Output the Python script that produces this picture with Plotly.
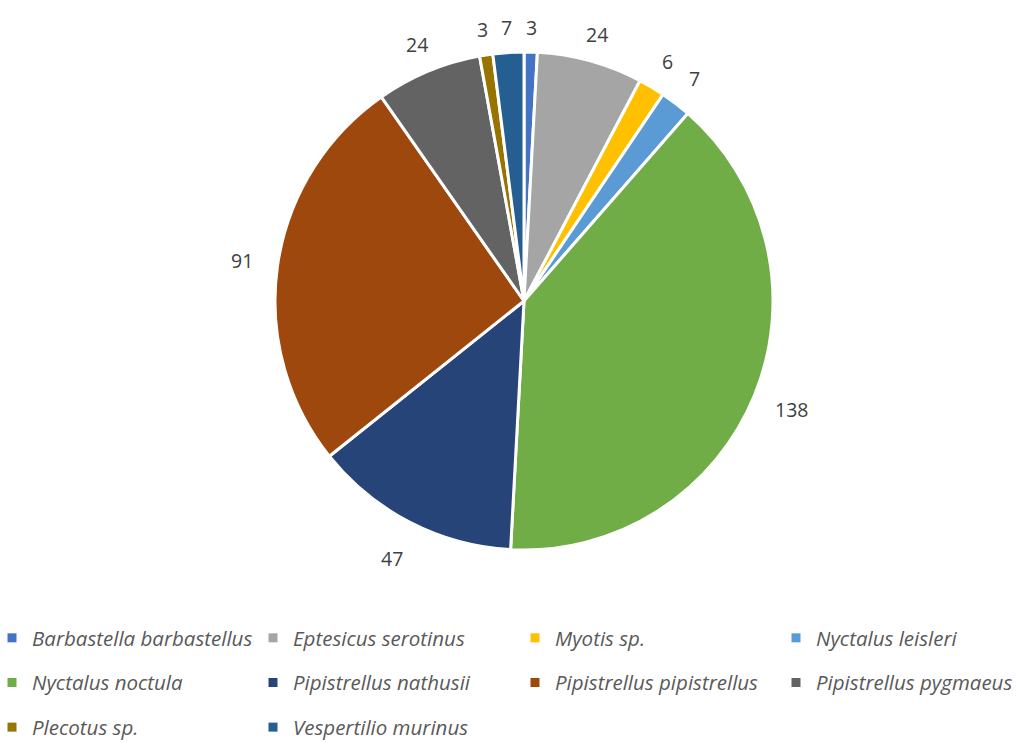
import math
import plotly.graph_objects as go

species = ["Barbastella barbastellus", "Eptesicus serotinus", "Myotis sp.", "Nyctalus leisleri",
           "Nyctalus noctula", "Pipistrellus nathusii", "Pipistrellus pipistrellus",
           "Pipistrellus pygmaeus", "Plecotus sp.", "Vespertilio murinus"]
counts = [3, 24, 6, 7, 138, 47, 91, 24, 3, 7]
colors = ["#4472C4", "#A5A5A5", "#FFC000", "#5B9BD5", "#70AD47", "#264478",
          "#9E480E", "#636363", "#997300", "#255E91"]

FONT = "Open Sans"
W, H = 1026, 742
# pie geometry (pixels)
CX, CY, R = 524, 301, 247
DOM_R = R + 2

fig = go.Figure()
fig.add_trace(go.Pie(
    labels=species, values=counts, sort=False, direction="clockwise", rotation=0,
    marker=dict(colors=colors, line=dict(color="white", width=3)),
    textinfo="none", showlegend=False, hoverinfo="label+value",
    domain=dict(x=[(CX - DOM_R) / W, (CX + DOM_R) / W],
                y=[1 - (CY + DOM_R) / H, 1 - (CY - DOM_R) / H]),
))

# outside data labels placed at each slice's mid-angle
total = sum(counts)
cum = 0
for v in counts:
    theta = 2 * math.pi * (cum + v / 2) / total
    cum += v
    s, c = math.sin(theta), math.cos(theta)
    r = R + 26 + 12 * abs(s) + 12 * max(0.0, -c)
    fig.add_annotation(
        x=(CX + r * s) / W, y=1 - (CY - r * c) / H, xref="paper", yref="paper",
        text=str(v), showarrow=False, xanchor="center", yanchor="middle",
        font=dict(family=FONT, size=19.5, color="#404040"),
    )

# legend: 4 columns, laid out row-wise like the original
NCOL = 4
col_text_x = [29, 290, 552, 813]
for i, (sp, col) in enumerate(zip(species, colors)):
    k = i % NCOL
    fig.add_trace(go.Scatter(
        x=[None], y=[None], mode="markers", name=sp,
        marker=dict(symbol="square", size=9, color=col),
        legend="legend" if k == 0 else f"legend{k + 1}",
        legendgroup=sp, showlegend=True, hoverinfo="skip",
    ))

leg_common = dict(orientation="v", xanchor="left", yanchor="top", y=1 - 618 / H,
                  tracegroupgap=15,
                  font=dict(family=FONT, size=20.5, color="#595959", style="italic"),
                  bgcolor="rgba(0,0,0,0)", itemclick=False, itemdoubleclick=False)
legend_layout = {}
for k in range(NCOL):
    key = "legend" if k == 0 else f"legend{k + 1}"
    legend_layout[key] = dict(**leg_common, x=(col_text_x[k] - 37) / W)

fig.update_layout(
    width=W, height=H,
    margin=dict(l=0, r=0, t=0, b=0, autoexpand=False),
    paper_bgcolor="white", plot_bgcolor="white",
    xaxis=dict(visible=False), yaxis=dict(visible=False),
    **legend_layout,
)

fig.write_html("out.html")
